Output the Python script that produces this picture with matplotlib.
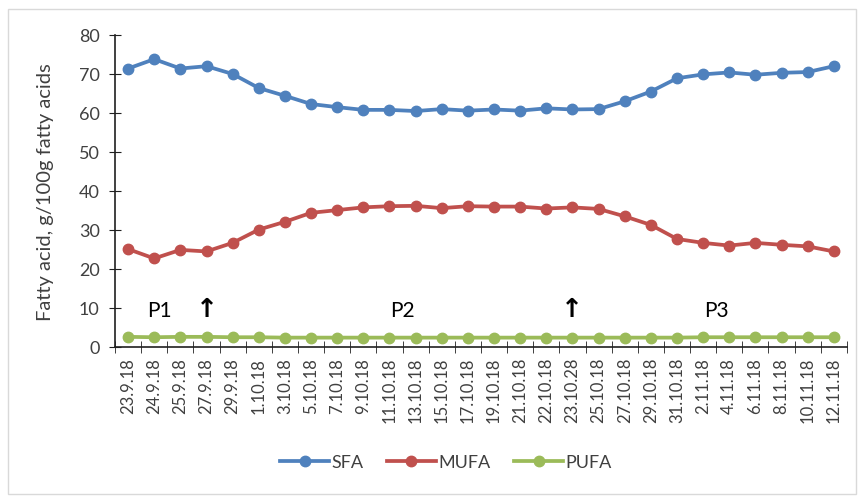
import matplotlib
matplotlib.use("Agg")
import matplotlib.pyplot as plt
from matplotlib.patches import Rectangle

plt.rcParams['font.family'] = ['Lato', 'DejaVu Sans']

dates = ["23.9.18", "24.9.18", "25.9.18", "27.9.18", "29.9.18", "1.10.18", "3.10.18",
         "5.10.18", "7.10.18", "9.10.18", "11.10.18", "13.10.18", "15.10.18", "17.10.18",
         "19.10.18", "21.10.18", "22.10.18", "23.10.28", "25.10.18", "27.10.18", "29.10.18",
         "31.10.18", "2.11.18", "4.11.18", "6.11.18", "8.11.18", "10.11.18", "12.11.18"]
sfa = [71.4, 73.8, 71.4, 72.0, 70.0, 66.4, 64.4, 62.3, 61.5, 60.8, 60.8, 60.5, 61.0, 60.6,
       60.9, 60.6, 61.2, 60.9, 61.0, 63.0, 65.5, 68.9, 69.9, 70.4, 69.8, 70.3, 70.5, 72.0]
mufa = [25.1, 22.7, 24.9, 24.5, 26.7, 30.1, 32.1, 34.4, 35.1, 35.8, 36.1, 36.2, 35.6, 36.1,
        36.0, 36.0, 35.5, 35.8, 35.4, 33.5, 31.3, 27.7, 26.7, 26.0, 26.7, 26.2, 25.8, 24.5]
pufa = [2.6, 2.5, 2.6, 2.6, 2.5, 2.5, 2.4, 2.4, 2.4, 2.4, 2.4, 2.4, 2.4, 2.4,
        2.4, 2.4, 2.4, 2.4, 2.4, 2.4, 2.4, 2.4, 2.5, 2.5, 2.5, 2.5, 2.5, 2.5]
series = [("SFA", sfa, "#4F81BD"), ("MUFA", mufa, "#C0504D"), ("PUFA", pufa, "#9BBB59")]
labels = [("P1", 1.2), ("P2", 10.5), ("P3", 22.5)]
arrows = [3, 17]

fig = plt.figure(figsize=(8.61, 5.02), dpi=100)
fig.patches.append(Rectangle((0.009, 0.014), 0.985, 0.966, transform=fig.transFigure,
                             fill=False, edgecolor="#d9d9d9", lw=1))
ax = fig.add_axes([0.1336, 0.3068, 0.85, 0.6215])

x = range(len(dates))
for name, vals, col in series:
    ax.plot(x, vals, color=col, lw=2.7, marker="o", ms=7.5, label=name)

for t, xp in labels:
    ax.text(xp, 9.6, t, fontsize=15, ha="center", va="center")
for xp in arrows:
    ax.text(xp, 9.8, "↑", fontsize=19, ha="center", va="center", fontweight="bold",
            family=["DejaVu Sans"])

ax.set_xlim(-0.5, len(dates) - 0.5)
ax.set_ylim(0, 80)
ax.set_yticks(range(0, 81, 10))
ax.set_xticks(list(x))
ax.set_xticklabels(dates, rotation=90, fontsize=12, color="#404040")
ax.set_xticks([i - 0.5 for i in range(len(dates) + 1)], minor=True)
ax.tick_params(axis="x", which="major", length=0, pad=7)
ax.tick_params(axis="x", which="minor", direction="inout", length=8, color="#202020")
ax.tick_params(axis="y", direction="inout", length=8, labelsize=13, labelcolor="#404040",
               color="#202020", pad=7)
for s in ["top", "right"]:
    ax.spines[s].set_visible(False)
for s in ["left", "bottom"]:
    ax.spines[s].set_color("#202020")
    ax.spines[s].set_linewidth(1.2)
ax.set_ylabel("Fatty acid, g/100g fatty acids", fontsize=14.5, color="#404040", labelpad=18)

fig.legend(loc="center", bbox_to_anchor=(0.518, 0.077), ncol=3, frameon=False, fontsize=13,
           handlelength=2.7, handletextpad=0.15, columnspacing=1.3, labelcolor="#404040")

fig.savefig("out.png", dpi=100)
